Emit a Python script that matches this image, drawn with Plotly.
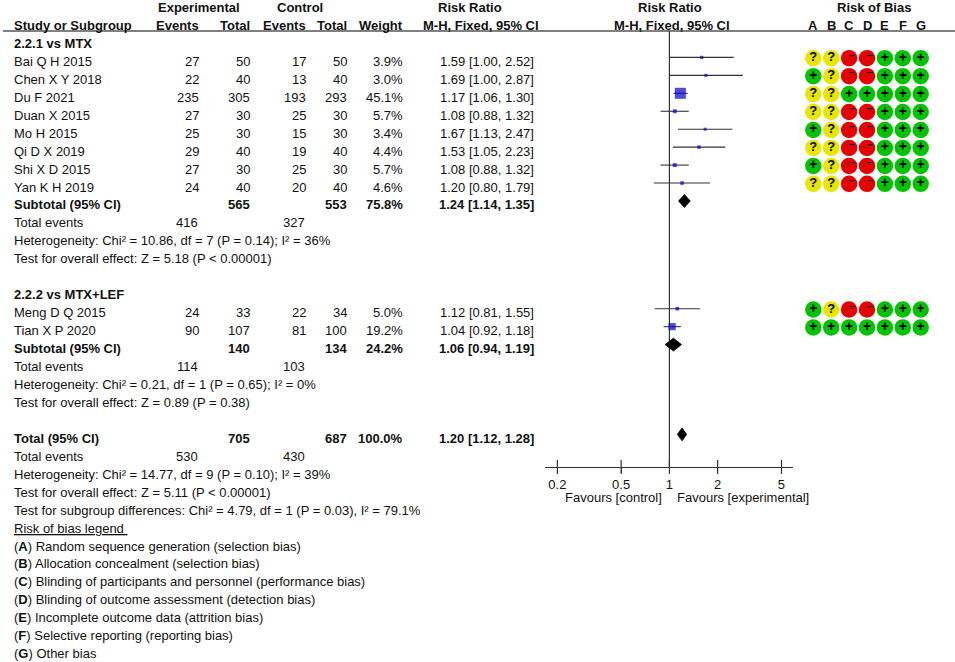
import numpy as np
import plotly.graph_objects as go

# ------------------------------------------------------------------ data
group_titles = ["2.2.1 vs MTX", "2.2.2 vs MTX+LEF"]

g1_studies = ["Bai Q H 2015", "Chen X Y 2018", "Du F 2021", "Duan X 2015",
              "Mo H 2015", "Qi D X 2019", "Shi X D 2015", "Yan K H 2019"]
g1_exp_events = [27, 22, 235, 27, 25, 29, 27, 24]
g1_exp_total = [50, 40, 305, 30, 30, 40, 30, 40]
g1_ctl_events = [17, 13, 193, 25, 15, 19, 25, 20]
g1_ctl_total = [50, 40, 293, 30, 30, 40, 30, 40]
g1_weight = [3.9, 3.0, 45.1, 5.7, 3.4, 4.4, 5.7, 4.6]
g1_rr = [1.59, 1.69, 1.17, 1.08, 1.67, 1.53, 1.08, 1.20]
g1_lo = [1.00, 1.00, 1.06, 0.88, 1.13, 1.05, 0.88, 0.80]
g1_hi = [2.52, 2.87, 1.30, 1.32, 2.47, 2.23, 1.32, 1.79]
g1_bias = ["??--+++", "+?--+++", "??+++++", "??--+++",
           "+?--+++", "??--+++", "+?--+++", "??--+++"]

g2_studies = ["Meng D Q 2015", "Tian X P 2020"]
g2_exp_events = [24, 90]
g2_exp_total = [33, 107]
g2_ctl_events = [22, 81]
g2_ctl_total = [34, 100]
g2_weight = [5.0, 19.2]
g2_rr = [1.12, 1.04]
g2_lo = [0.81, 0.92]
g2_hi = [1.55, 1.18]
g2_bias = ["+?--+++", "+++++++"]

pooled_labels = ["Subtotal (95% CI)", "Subtotal (95% CI)", "Total (95% CI)"]
pooled_exp_total = [565, 140, 705]
pooled_ctl_total = [553, 134, 687]
pooled_weight = [75.8, 24.2, 100.0]
pooled_rr = [1.24, 1.06, 1.20]
pooled_lo = [1.14, 0.94, 1.12]
pooled_hi = [1.35, 1.19, 1.28]
pooled_exp_events = [416, 114, 530]
pooled_ctl_events = [327, 103, 430]
heterogeneity = ["Heterogeneity: Chi² = 10.86, df = 7 (P = 0.14); I² = 36%",
                 "Heterogeneity: Chi² = 0.21, df = 1 (P = 0.65); I² = 0%",
                 "Heterogeneity: Chi² = 14.77, df = 9 (P = 0.10); I² = 39%"]
overall_effect = ["Test for overall effect: Z = 5.18 (P < 0.00001)",
                  "Test for overall effect: Z = 0.89 (P = 0.38)",
                  "Test for overall effect: Z = 5.11 (P < 0.00001)"]
subgroup_test = "Test for subgroup differences: Chi² = 4.79, df = 1 (P = 0.03), I² = 79.1%"

bias_domains = ["A", "B", "C", "D", "E", "F", "G"]
bias_descriptions = ["Random sequence generation (selection bias)",
                     "Allocation concealment (selection bias)",
                     "Blinding of participants and personnel (performance bias)",
                     "Blinding of outcome assessment (detection bias)",
                     "Incomplete outcome data (attrition bias)",
                     "Selective reporting (reporting bias)",
                     "Other bias"]

axis_ticks = [0.2, 0.5, 1, 2, 5]
axis_tick_labels = ["0.2", "0.5", "1", "2", "5"]
favours_labels = ["Favours [control]", "Favours [experimental]"]

# ------------------------------------------------------------------ layout helpers
FONT = "Liberation Sans, Arial, sans-serif"
FS = 13
TXT = "#111111"
W, H = 955, 662
ROW0, ROWH = 7.5, 17.95          # pixel centre of row 0, row pitch


def row_of_px(p):
    return (p - ROW0) / ROWH


MARK_OFF = -0.22                  # marks sit slightly above the text centre
AXIS_ROW = row_of_px(467)
TOP_ROW = row_of_px(31)

COL_STUDY, COL_EE, COL_ET, COL_CE, COL_CT, COL_W, COL_RR = 13, 200, 251, 307, 348, 404, 535

ann = []


def txt(x, k, s, anchor="left", bold=False, size=FS, xref="x"):
    if bold:
        s = f"<b>{s}</b>"
    ann.append(dict(x=x, y=k, xref=xref, yref="y", text=s, xanchor=anchor,
                    yanchor="middle", showarrow=False, borderpad=0,
                    font=dict(family=FONT, size=size, color=TXT)))


# headers
txt(199, 0, "Experimental", "center", True)
txt(300, 0, "Control", "center", True)
txt(470, 0, "Risk Ratio", "center", True)
txt(670, 0, "Risk Ratio", "center", True)
txt(874, 0, "Risk of Bias", "center", True)
txt(COL_STUDY, 1, "Study or Subgroup", "left", True)
txt(COL_EE, 1, "Events", "right", True)
txt(COL_ET, 1, "Total", "right", True)
txt(COL_CE, 1, "Events", "right", True)
txt(COL_CT, 1, "Total", "right", True)
txt(COL_W, 1, "Weight", "right", True)
txt(481, 1, "M-H, Fixed, 95% CI", "center", True)
txt(672, 1, "M-H, Fixed, 95% CI", "center", True)
for i, d in enumerate(bias_domains):
    txt(i, 1, d, "center", True, xref="x3")

groups = [
    (g1_studies, g1_exp_events, g1_exp_total, g1_ctl_events, g1_ctl_total, g1_weight, g1_rr, g1_lo, g1_hi, g1_bias),
    (g2_studies, g2_exp_events, g2_exp_total, g2_ctl_events, g2_ctl_total, g2_weight, g2_rr, g2_lo, g2_hi, g2_bias),
]

study_rows, s_rr, s_lo, s_hi, s_w = [], [], [], [], []
bias_x, bias_y, bias_val = [], [], []
pooled_rows = []

k = 2
for gi, (names, ee, et, ce, ct, w, rr, lo, hi, bias) in enumerate(groups):
    txt(COL_STUDY, k, group_titles[gi], "left", True)
    k += 1
    for j, name in enumerate(names):
        txt(COL_STUDY, k, name)
        txt(COL_EE, k, str(ee[j]), "right")
        txt(COL_ET, k, str(et[j]), "right")
        txt(COL_CE, k, str(ce[j]), "right")
        txt(COL_CT, k, str(ct[j]), "right")
        txt(COL_W, k, f"{w[j]:.1f}%", "right")
        txt(COL_RR, k, f"{rr[j]:.2f} [{lo[j]:.2f}, {hi[j]:.2f}]", "right")
        study_rows.append(k)
        s_rr.append(rr[j]); s_lo.append(lo[j]); s_hi.append(hi[j]); s_w.append(w[j])
        for di, v in enumerate(bias[j]):
            bias_x.append(bias_domains[di]); bias_y.append(k + MARK_OFF * 0.8); bias_val.append(v)
        k += 1
    # subtotal block
    txt(COL_STUDY, k, pooled_labels[gi], "left", True)
    txt(COL_ET, k, str(pooled_exp_total[gi]), "right", True)
    txt(COL_CT, k, str(pooled_ctl_total[gi]), "right", True)
    txt(COL_W, k, f"{pooled_weight[gi]:.1f}%", "right", True)
    txt(COL_RR, k, f"{pooled_rr[gi]:.2f} [{pooled_lo[gi]:.2f}, {pooled_hi[gi]:.2f}]", "right", True)
    pooled_rows.append(k)
    k += 1
    txt(COL_STUDY, k, "Total events")
    txt(COL_EE - 1, k, str(pooled_exp_events[gi]), "right")
    txt(COL_CE - 1, k, str(pooled_ctl_events[gi]), "right")
    k += 1
    txt(COL_STUDY, k, heterogeneity[gi]); k += 1
    txt(COL_STUDY, k, overall_effect[gi]); k += 2

# overall total
txt(COL_STUDY, k, pooled_labels[2], "left", True)
txt(COL_ET, k, str(pooled_exp_total[2]), "right", True)
txt(COL_CT, k, str(pooled_ctl_total[2]), "right", True)
txt(COL_W, k, f"{pooled_weight[2]:.1f}%", "right", True)
txt(COL_RR, k, f"{pooled_rr[2]:.2f} [{pooled_lo[2]:.2f}, {pooled_hi[2]:.2f}]", "right", True)
pooled_rows.append(k)
k += 1
txt(COL_STUDY, k, "Total events")
txt(COL_EE - 1, k, str(pooled_exp_events[2]), "right")
txt(COL_CE - 1, k, str(pooled_ctl_events[2]), "right")
k += 1
txt(COL_STUDY, k, heterogeneity[2]); k += 1
txt(COL_STUDY, k, overall_effect[2]); k += 1
txt(COL_STUDY, k, subgroup_test); k += 1
txt(COL_STUDY, k, "<u>Risk of bias legend </u>"); k += 1
for d, desc in zip(bias_domains, bias_descriptions):
    txt(COL_STUDY, k, f"(<b>{d}</b>) {desc}")
    k += 1

# favours labels under forest axis
txt(613, row_of_px(497), favours_labels[0], "center")
txt(743, row_of_px(497), favours_labels[1], "center")

# ------------------------------------------------------------------ traces
fig = go.Figure()
LINE = "#333333"

# null line
fig.add_trace(go.Scatter(x=[1, 1], y=[TOP_ROW, AXIS_ROW], mode="lines",
                         line=dict(color=LINE, width=1.2), xaxis="x2", yaxis="y2",
                         hoverinfo="skip", cliponaxis=False))

# confidence intervals
ci_x, ci_y = [], []
for r, lo, hi in zip(study_rows, s_lo, s_hi):
    ci_x += [lo, hi, None]
    ci_y += [r + MARK_OFF, r + MARK_OFF, None]
fig.add_trace(go.Scatter(x=ci_x, y=ci_y, mode="lines", line=dict(color=LINE, width=1.1),
                         xaxis="x2", yaxis="y2", hoverinfo="skip"))

# weighted squares
fig.add_trace(go.Scatter(x=s_rr, y=[r + MARK_OFF for r in study_rows], mode="markers",
                         marker=dict(symbol="square", color="#0000c8",
                                     size=[max(3, 1.64 * np.sqrt(w)) for w in s_w],
                                     line=dict(width=0)),
                         xaxis="x2", yaxis="y2", hoverinfo="skip"))

# pooled diamonds
HALF = 0.36
dx, dy = [], []
for r, est, lo, hi in zip(pooled_rows, pooled_rr, pooled_lo, pooled_hi):
    c = r + MARK_OFF
    dx += [lo, est, hi, est, lo, None]
    dy += [c, c - HALF, c, c + HALF, c, None]
fig.add_trace(go.Scatter(x=dx, y=dy, mode="lines", fill="toself", fillcolor="black",
                         line=dict(color="black", width=0.8), xaxis="x2", yaxis="y2",
                         hoverinfo="skip"))

# axis tick marks crossing the axis line
fig.add_trace(go.Scatter(x=axis_ticks, y=[AXIS_ROW] * len(axis_ticks), mode="markers",
                         marker=dict(symbol="line-ns", size=10, line=dict(color=LINE, width=1.2)),
                         xaxis="x2", yaxis="y2", hoverinfo="skip", cliponaxis=False))

# risk of bias circles
col_map = {"?": "#e6e600", "-": "#e60000", "+": "#00c400"}
sym_map = {"?": "<b>?</b>", "-": "", "+": "<b>+</b>"}
size_map = {"?": 13, "-": 10, "+": 14}
fig.add_trace(go.Scatter(x=bias_x, y=bias_y, mode="markers+text",
                         marker=dict(size=16.5, color=[col_map[v] for v in bias_val], line=dict(width=0)),
                         text=[sym_map[v] for v in bias_val], textposition="middle center",
                         textfont=dict(family=FONT, color="black", size=[size_map[v] for v in bias_val]),
                         xaxis="x3", yaxis="y", hoverinfo="skip"))
# the "high risk" dash sits right of centre inside the red circle
mx = [x for x, v in zip(bias_x, bias_val) if v == "-"]
my = [y - 0.12 for y, v in zip(bias_y, bias_val) if v == "-"]
fig.add_trace(go.Scatter(x=mx, y=my, mode="text", text=["<b>–</b>"] * len(mx),
                         textposition="middle right",
                         textfont=dict(family=FONT, color="black", size=10),
                         xaxis="x3", yaxis="y", hoverinfo="skip"))

# ------------------------------------------------------------------ layout
shapes = [dict(type="line", xref="x", yref="y", x0=3, x1=955, y0=TOP_ROW, y1=TOP_ROW,
               line=dict(color="#555555", width=1.5))]

fig.update_layout(
    width=W, height=H, margin=dict(l=0, r=0, t=0, b=0),
    paper_bgcolor="white", plot_bgcolor="white", showlegend=False,
    font=dict(family=FONT, size=FS, color=TXT),
    annotations=ann, shapes=shapes,
    xaxis=dict(range=[0, W], domain=[0, 1], visible=False, anchor="y"),
    yaxis=dict(range=[row_of_px(H), row_of_px(0)], domain=[0, 1], visible=False, anchor="x"),
    xaxis2=dict(type="log", range=[np.log10(0.1675), np.log10(5.9)],
                domain=[545 / W, 793 / W], anchor="y2", showline=True, linecolor=LINE,
                linewidth=1.2, showgrid=False, zeroline=False, ticks="outside", ticklen=5,
                tickwidth=1.2, tickcolor=LINE, tickvals=axis_ticks, ticktext=axis_tick_labels,
                tickfont=dict(family=FONT, size=FS, color=TXT)),
    yaxis2=dict(range=[AXIS_ROW, row_of_px(0)], domain=[1 - 467 / H, 1], visible=False,
                anchor="x2"),
    xaxis3=dict(type="category", categoryorder="array", categoryarray=bias_domains,
                range=[-0.5, 6.5], domain=[804.35 / W, 929.65 / W], visible=False, anchor="y"),
)

fig.write_html("out.html", config={"displayModeBar": False},
               post_script="document.body.style.margin='0px';document.body.style.overflow='hidden';")
